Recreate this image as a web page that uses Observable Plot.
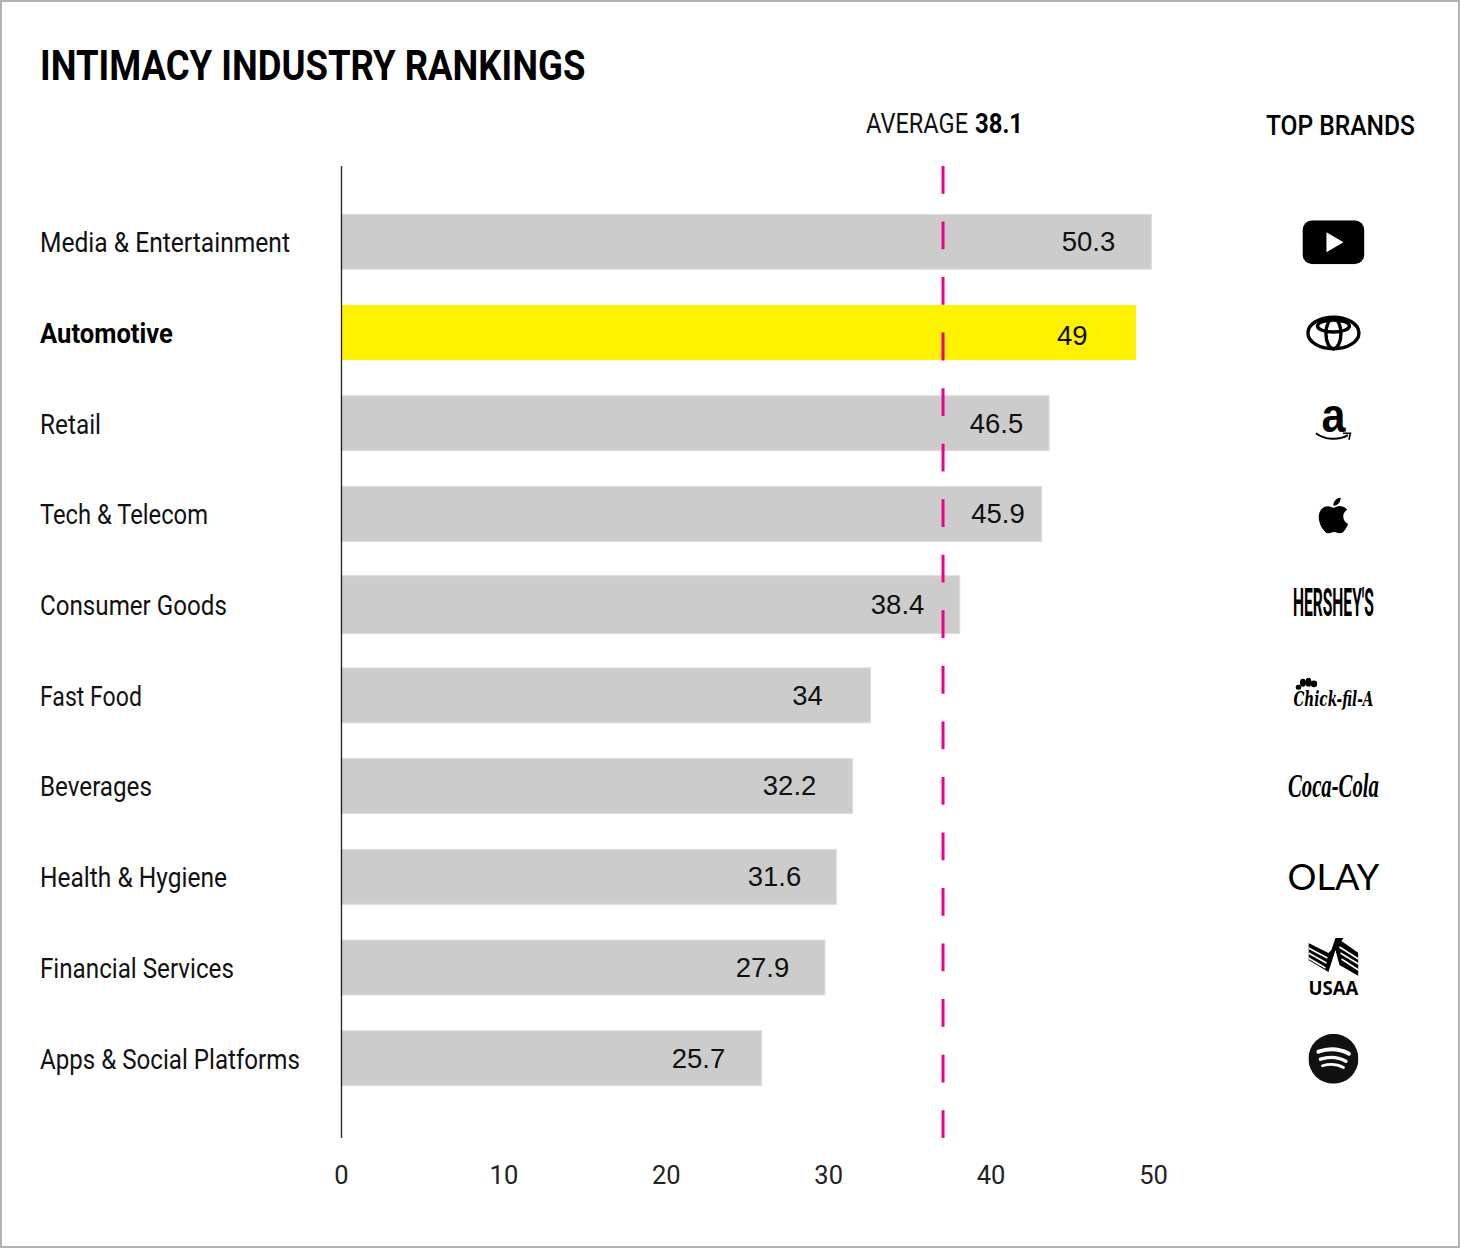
<!DOCTYPE html>
<html>
<head>
<meta charset="utf-8">
<script src="https://cdn.jsdelivr.net/npm/d3@7"></script>
<script src="https://cdn.jsdelivr.net/npm/@observablehq/plot@0.6"></script>
<style>
html,body{margin:0;padding:0;background:#fff}
#frame{position:relative;width:1460px;height:1248px;box-sizing:border-box;overflow:hidden;background:#fff}
#frame::after{content:"";position:absolute;inset:0;border:2px solid #b3b3b3;pointer-events:none}
h1{position:absolute;left:40px;top:41px;margin:0;font:700 42px/50px Roboto,sans-serif;color:#000;white-space:nowrap;z-index:1;transform:scaleX(.869);transform-origin:left center}
svg{display:block}
</style>
</head>
<body>
<div id="frame"><h1>INTIMACY INDUSTRY RANKINGS</h1></div>
<script>
const categories = ["Media & Entertainment","Automotive","Retail","Tech & Telecom","Consumer Goods","Fast Food","Beverages","Health & Hygiene","Financial Services","Apps & Social Platforms"];
const valueLabels = ["50.3","49","46.5","45.9","38.4","34","32.2","31.6","27.9","25.7"];
const barLengths = [49.9,48.95,43.6,43.15,38.1,32.6,31.5,30.5,29.8,25.9];
const labelAt = [46.0,45.0,40.33,40.42,34.24,28.69,27.59,26.66,25.92,21.98];
const highlighted = "Automotive";
const averagePosition = 37.04;
const brandColumn = 61.08;
const xTicks = [0,10,20,30,40,50];

const narrow = 'Roboto,sans-serif';
const plain = '"Liberation Sans",sans-serif';
const svgUri = (w,h,body) => "data:image/svg+xml," + encodeURIComponent(`<svg xmlns="http://www.w3.org/2000/svg" viewBox="0 0 ${w} ${h}">${body}</svg>`);

const iconLogos = [
 {y:"Media & Entertainment", w:62,h:44, src:svgUri(62,44,'<rect width="62" height="44" rx="10"/><path d="M24 12L41 22L24 32Z" fill="#fff"/>')},
 {y:"Automotive", w:56,h:36, src:svgUri(56,36,'<g fill="none" stroke="#000" stroke-width="3.4"><ellipse cx="28" cy="18" rx="25.500" ry="15.800"/><ellipse cx="28" cy="18.500" rx="7.500" ry="15.300"/><ellipse cx="28" cy="11" rx="16" ry="6"/></g>')},
 {y:"Retail", dy:13, w:37,h:10, src:svgUri(37,10,'<path d="M1 1.500C10 8.500 24 8.800 33 3.500" fill="none" stroke="#000" stroke-width="2"/><path d="M28 1.500L35.500 1.500L34 8" fill="none" stroke="#000" stroke-width="1.600"/>')},
 {y:"Tech & Telecom", dy:1, w:36,h:36, src:svgUri(24,24,'<path d="M12.152 6.896c-.948 0-2.415-1.078-3.96-1.04-2.04.027-3.91 1.183-4.961 3.014-2.117 3.675-.546 9.103 1.519 12.09 1.013 1.454 2.208 3.09 3.792 3.039 1.52-.065 2.09-.987 3.935-.987 1.831 0 2.35.987 3.96.948 1.637-.026 2.676-1.48 3.676-2.948 1.156-1.688 1.636-3.325 1.662-3.415-.039-.013-3.182-1.221-3.22-4.857-.026-3.04 2.48-4.494 2.597-4.559-1.429-2.09-3.623-2.324-4.39-2.376-2-.156-3.675 1.09-4.61 1.09zM15.53 3.83c.843-1.012 1.4-2.427 1.245-3.83-1.207.052-2.662.805-3.532 1.818-.78.896-1.454 2.338-1.273 3.714 1.338.104 2.715-.688 3.559-1.701"/>')},
 {y:"Fast Food", dy:-11, dx:-27, w:22,h:14, src:svgUri(22,14,'<ellipse cx="3" cy="9.500" rx="2.800" ry="2.500"/><ellipse cx="7.500" cy="5" rx="3" ry="4"/><ellipse cx="13" cy="4.500" rx="3" ry="4.500"/><ellipse cx="18.500" cy="6" rx="3.400" ry="3.400"/>')},
 {y:"Financial Services", dy:-10, w:50,h:40, src:svgUri(50,40,'<path d="M0 5L20 15L23 12L27 0H35L33 3L50 15V38L31 27L27 12L20 34L0 22Z"/><g fill="none" stroke="#fff" stroke-width="1.600"><path d="M0 10L19 20"/><path d="M0 15L18 25"/><path d="M0 20L17 30"/><path d="M31 9L50 21"/><path d="M32 15L50 26"/><path d="M33 21L50 32"/></g>')},
 {y:"Apps & Social Platforms", w:50,h:50, src:svgUri(50,50,'<circle cx="25" cy="25" r="25" fill="#111"/><g fill="none" stroke="#fff" stroke-linecap="round"><path d="M10 18C20 14.500 31 15 40.500 20" stroke-width="4"/><path d="M12 25.500C21 22.500 30 23.500 37.500 27.500" stroke-width="3.400"/><path d="M14 32C22 29.800 29 30.500 35 33.800" stroke-width="2.800"/></g>')}
];
const textLogos = [
 {y:"Retail", text:"a", dy:-7, size:48, weight:700, font:plain, style:"normal"},
 {y:"Consumer Goods", text:"HERSHEY'S", dy:-1, size:38, weight:700, font:narrow, style:"normal"},
 {y:"Fast Food", text:"Chick-fil-A", dy:4, size:20, weight:700, font:'"DejaVu Serif",serif', style:"italic"},
 {y:"Beverages", text:"Coca-Cola", dy:0, size:33, weight:700, font:'"Liberation Serif",serif', style:"italic"},
 {y:"Health & Hygiene", text:"OLAY", dy:1, size:36, weight:400, font:'Lato,sans-serif', style:"normal"},
 {y:"Financial Services", text:"USAA", dy:21, size:20, weight:700, font:'"Open Sans",sans-serif', style:"normal"}
];
const fittedWidths = new Map([
 ["Media & Entertainment",250],["Automotive",133],["Retail",61],["Tech & Telecom",168],["Consumer Goods",187],["Fast Food",102],["Beverages",112],["Health & Hygiene",187],["Financial Services",194],["Apps & Social Platforms",260],
 ["AVERAGE",102],["38.1",48],["TOP BRANDS",149],["HERSHEY'S",81],["Chick-fil-A",80],["Coca-Cola",91],["OLAY",92],["USAA",50],["a",24]
]);

const rows = categories.map((c,i)=>({c,label:valueLabels[i],len:barLengths[i],at:labelAt[i]}));
const isHi = d => d.c===highlighted;

const plot = Plot.plot({
  width:1460, height:1248,
  marginLeft:0, marginRight:0, marginTop:166, marginBottom:110,
  style:{background:"transparent"},
  x:{domain:[0,50], range:[341,1153], axis:null},
  y:{domain:categories, range:[178.5,1121.5], padding:0.395, round:false, axis:null},
  marks:[
    Plot.barX(rows.filter(d=>!isHi(d)&&d.c!=="Consumer Goods"),{x:"len",y:"c",fill:"#cccccc",stroke:"#dcdcdc",strokeWidth:1}),
    Plot.barX(rows.filter(d=>d.c==="Consumer Goods"),{x:"len",y:"c",fill:"#cccccc",stroke:"#dcdcdc",strokeWidth:1,insetTop:-1.5,insetBottom:-1.5}),
    Plot.barX(rows.filter(isHi),{x:"len",y:"c",fill:"#fff200"}),
    Plot.ruleX([0],{stroke:"#222",strokeWidth:1.3}),
    Plot.ruleX([averagePosition],{stroke:"#ec008c",strokeWidth:3,strokeDasharray:"27.77,27.77"}),
    Plot.text(rows.filter(d=>!isHi(d)),{x:"at",y:"c",text:"label",fill:"#111",fontSize:27.5,fontFamily:plain}),
    Plot.text(rows.filter(isHi),{x:"at",y:"c",text:"label",dy:3.5,fill:"#111",fontSize:27.5,fontFamily:plain}),
    Plot.text(rows.filter(d=>!isHi(d)),{y:"c",text:"c",frameAnchor:"left",dx:39.5,dy:1,textAnchor:"start",fill:"#111",fontSize:27.5,fontFamily:narrow}),
    Plot.text(rows.filter(isHi),{y:"c",text:"c",frameAnchor:"left",dx:39.5,dy:1,textAnchor:"start",fill:"#000",fontSize:27.5,fontWeight:700,fontFamily:narrow}),
    Plot.axisX({ticks:xTicks,anchor:"bottom",tickSize:0,tickPadding:27,label:null,fontSize:25.5,fontFamily:narrow,color:"#222"}),
    Plot.text(["AVERAGE"],{x:()=>averagePosition,frameAnchor:"top",dy:-53,dx:25,textAnchor:"end",fill:"#111",fontSize:28,fontFamily:narrow}),
    Plot.text(["38.1"],{x:()=>averagePosition,frameAnchor:"top",dy:-53,dx:32,textAnchor:"start",fill:"#000",fontSize:28,fontWeight:700,fontFamily:narrow}),
    Plot.text(["TOP BRANDS"],{x:()=>brandColumn,frameAnchor:"top",dy:-51,dx:7,fill:"#000",fontSize:28,fontWeight:500,fontFamily:narrow}),
    ...iconLogos.map(d=>Plot.image([d],{x:()=>brandColumn,y:"y",src:"src",width:d.w,height:d.h,dy:d.dy||0,dx:d.dx||0})),
    ...textLogos.map(d=>Plot.text([d],{x:()=>brandColumn,y:"y",text:"text",dy:d.dy,fontSize:d.size,fontWeight:d.weight,fontFamily:d.font,fontStyle:d.style,fill:"#000"}))
  ]
});
document.getElementById("frame").appendChild(plot);
// Horizontal condensing of each text to the width it has in the reference.
d3.select(plot).selectAll("text").each(function(){
  const w = fittedWidths.get(this.textContent);
  if (!w) return;
  const sx = w / this.getComputedTextLength();
  const t = this.getAttribute("transform");
  if (t) this.setAttribute("transform", `${t} scale(${sx},1)`);
  else {
    const x = +(this.getAttribute("x")||0), y = +(this.getAttribute("y")||0);
    this.setAttribute("transform", `translate(${x},${y}) scale(${sx},1)`);
    this.removeAttribute("x"); this.removeAttribute("y");
  }
});
</script>
</body>
</html>
